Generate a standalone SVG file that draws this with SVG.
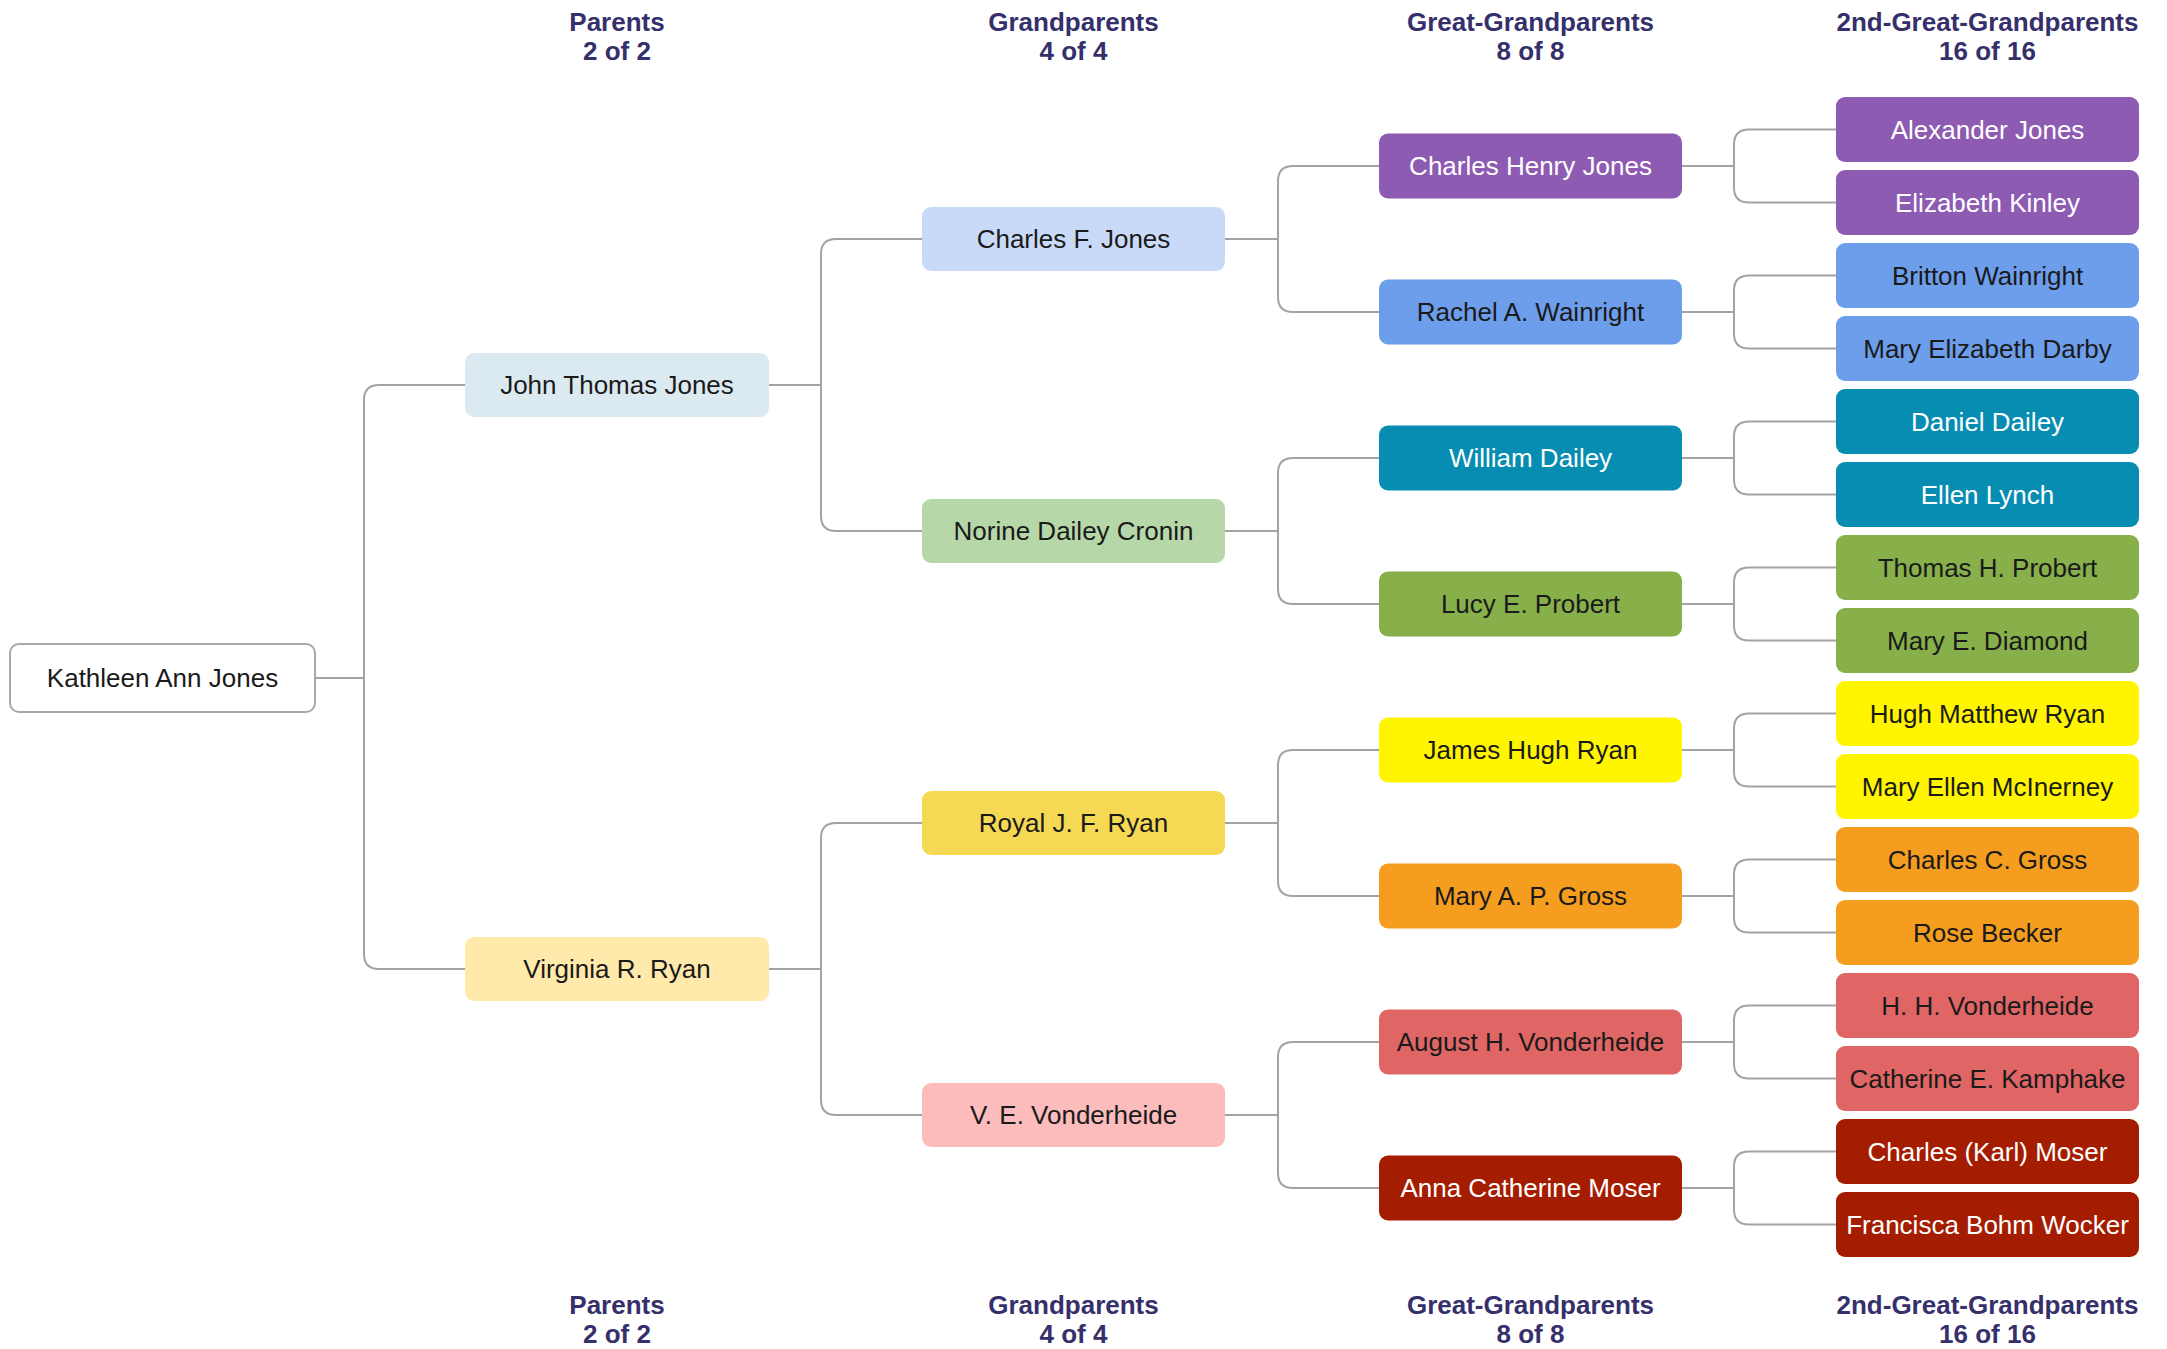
<svg xmlns="http://www.w3.org/2000/svg" width="2167" height="1349" viewBox="0 0 2167 1349">
<style>
  .hdr { font-family: "Liberation Sans", Arial, sans-serif; font-weight: bold; font-size: 26px; fill: #35306b; text-anchor: middle; }
  .lbl { font-family: "Liberation Sans", Arial, sans-serif; font-size: 26px; fill: #1a1a1a; text-anchor: middle; }
  .w { fill: #ffffff; }
  .conn { fill: none; stroke: #a3a3a3; stroke-width: 2; }
  .box { stroke: none; }
</style>
<rect width="2167" height="1349" fill="#ffffff"/>
<g id="headers">
  <text class="hdr" x="617" y="31">Parents</text><text class="hdr" x="617" y="60">2 of 2</text>
  <text class="hdr" x="1073.5" y="31">Grandparents</text><text class="hdr" x="1073.5" y="60">4 of 4</text>
  <text class="hdr" x="1530.5" y="31">Great-Grandparents</text><text class="hdr" x="1530.5" y="60">8 of 8</text>
  <text class="hdr" x="1987.5" y="31">2nd-Great-Grandparents</text><text class="hdr" x="1987.5" y="60">16 of 16</text>
  <text class="hdr" x="617" y="1314">Parents</text><text class="hdr" x="617" y="1343">2 of 2</text>
  <text class="hdr" x="1073.5" y="1314">Grandparents</text><text class="hdr" x="1073.5" y="1343">4 of 4</text>
  <text class="hdr" x="1530.5" y="1314">Great-Grandparents</text><text class="hdr" x="1530.5" y="1343">8 of 8</text>
  <text class="hdr" x="1987.5" y="1314">2nd-Great-Grandparents</text><text class="hdr" x="1987.5" y="1343">16 of 16</text>
</g>
<g id="connectors">
  <path class="conn" d="M315,678 H364 M465,385 H379 Q364,385 364,400 V954 Q364,969 379,969 H465"/>
  <path class="conn" d="M769,385 H821 M922,239 H836 Q821,239 821,254 V516 Q821,531 836,531 H922"/>
  <path class="conn" d="M769,969 H821 M922,823 H836 Q821,823 821,838 V1100 Q821,1115 836,1115 H922"/>
  <path class="conn" d="M1225,239 H1278 M1379,166 H1293 Q1278,166 1278,181 V297 Q1278,312 1293,312 H1379"/>
  <path class="conn" d="M1225,531 H1278 M1379,458 H1293 Q1278,458 1278,473 V589 Q1278,604 1293,604 H1379"/>
  <path class="conn" d="M1225,823 H1278 M1379,750 H1293 Q1278,750 1278,765 V881 Q1278,896 1293,896 H1379"/>
  <path class="conn" d="M1225,1115 H1278 M1379,1042 H1293 Q1278,1042 1278,1057 V1173 Q1278,1188 1293,1188 H1379"/>
  <path class="conn" d="M1682,166 H1734 M1836,129.5 H1749 Q1734,129.5 1734,144.5 V187.5 Q1734,202.5 1749,202.5 H1836"/>
  <path class="conn" d="M1682,312 H1734 M1836,275.5 H1749 Q1734,275.5 1734,290.5 V333.5 Q1734,348.5 1749,348.5 H1836"/>
  <path class="conn" d="M1682,458 H1734 M1836,421.5 H1749 Q1734,421.5 1734,436.5 V479.5 Q1734,494.5 1749,494.5 H1836"/>
  <path class="conn" d="M1682,604 H1734 M1836,567.5 H1749 Q1734,567.5 1734,582.5 V625.5 Q1734,640.5 1749,640.5 H1836"/>
  <path class="conn" d="M1682,750 H1734 M1836,713.5 H1749 Q1734,713.5 1734,728.5 V771.5 Q1734,786.5 1749,786.5 H1836"/>
  <path class="conn" d="M1682,896 H1734 M1836,859.5 H1749 Q1734,859.5 1734,874.5 V917.5 Q1734,932.5 1749,932.5 H1836"/>
  <path class="conn" d="M1682,1042 H1734 M1836,1005.5 H1749 Q1734,1005.5 1734,1020.5 V1063.5 Q1734,1078.5 1749,1078.5 H1836"/>
  <path class="conn" d="M1682,1188 H1734 M1836,1151.5 H1749 Q1734,1151.5 1734,1166.5 V1209.5 Q1734,1224.5 1749,1224.5 H1836"/>
</g>
<g id="root"><rect x="10" y="644" width="305" height="68" rx="9" fill="#ffffff" stroke="#a8a8a8" stroke-width="2"/><text class="lbl" x="162.5" y="687">Kathleen Ann Jones</text></g>

<g id="p1"><rect class="box" x="465" y="353" width="304" height="64" rx="9" fill="#dbeaf0"/><text class="lbl" x="617" y="394">John Thomas Jones</text></g>
<g id="p2"><rect class="box" x="465" y="937" width="304" height="64" rx="9" fill="#ffeaab"/><text class="lbl" x="617" y="978">Virginia R. Ryan</text></g>

<g id="g1"><rect class="box" x="922" y="207" width="303" height="64" rx="9" fill="#c9daf8"/><text class="lbl" x="1073.5" y="248">Charles F. Jones</text></g>
<g id="g2"><rect class="box" x="922" y="499" width="303" height="64" rx="9" fill="#b6d7a8"/><text class="lbl" x="1073.5" y="540">Norine Dailey Cronin</text></g>
<g id="g3"><rect class="box" x="922" y="791" width="303" height="64" rx="9" fill="#f5d854"/><text class="lbl" x="1073.5" y="832">Royal J. F. Ryan</text></g>
<g id="g4"><rect class="box" x="922" y="1083" width="303" height="64" rx="9" fill="#fbbcbb"/><text class="lbl" x="1073.5" y="1124">V. E. Vonderheide</text></g>

<g id="gg1"><rect class="box" x="1379" y="133.5" width="303" height="65" rx="9" fill="#8e5bb3"/><text class="lbl w" x="1530.5" y="175">Charles Henry Jones</text></g>
<g id="gg2"><rect class="box" x="1379" y="279.5" width="303" height="65" rx="9" fill="#6d9eeb"/><text class="lbl" x="1530.5" y="321">Rachel A. Wainright</text></g>
<g id="gg3"><rect class="box" x="1379" y="425.5" width="303" height="65" rx="9" fill="#078db1"/><text class="lbl w" x="1530.5" y="467">William Dailey</text></g>
<g id="gg4"><rect class="box" x="1379" y="571.5" width="303" height="65" rx="9" fill="#87b04b"/><text class="lbl" x="1530.5" y="613">Lucy E. Probert</text></g>
<g id="gg5"><rect class="box" x="1379" y="717.5" width="303" height="65" rx="9" fill="#fff500"/><text class="lbl" x="1530.5" y="759">James Hugh Ryan</text></g>
<g id="gg6"><rect class="box" x="1379" y="863.5" width="303" height="65" rx="9" fill="#f59d1f"/><text class="lbl" x="1530.5" y="905">Mary A. P. Gross</text></g>
<g id="gg7"><rect class="box" x="1379" y="1009.5" width="303" height="65" rx="9" fill="#e06666"/><text class="lbl" x="1530.5" y="1051">August H. Vonderheide</text></g>
<g id="gg8"><rect class="box" x="1379" y="1155.5" width="303" height="65" rx="9" fill="#a51d00"/><text class="lbl w" x="1530.5" y="1197">Anna Catherine Moser</text></g>

<g id="ggg1"><rect class="box" x="1836" y="97" width="303" height="65" rx="9" fill="#8e5bb3"/><text class="lbl w" x="1987.5" y="138.5">Alexander Jones</text></g>
<g id="ggg2"><rect class="box" x="1836" y="170" width="303" height="65" rx="9" fill="#8e5bb3"/><text class="lbl w" x="1987.5" y="211.5">Elizabeth Kinley</text></g>
<g id="ggg3"><rect class="box" x="1836" y="243" width="303" height="65" rx="9" fill="#6d9eeb"/><text class="lbl" x="1987.5" y="284.5">Britton Wainright</text></g>
<g id="ggg4"><rect class="box" x="1836" y="316" width="303" height="65" rx="9" fill="#6d9eeb"/><text class="lbl" x="1987.5" y="357.5">Mary Elizabeth Darby</text></g>
<g id="ggg5"><rect class="box" x="1836" y="389" width="303" height="65" rx="9" fill="#078db1"/><text class="lbl w" x="1987.5" y="430.5">Daniel Dailey</text></g>
<g id="ggg6"><rect class="box" x="1836" y="462" width="303" height="65" rx="9" fill="#078db1"/><text class="lbl w" x="1987.5" y="503.5">Ellen Lynch</text></g>
<g id="ggg7"><rect class="box" x="1836" y="535" width="303" height="65" rx="9" fill="#87b04b"/><text class="lbl" x="1987.5" y="576.5">Thomas H. Probert</text></g>
<g id="ggg8"><rect class="box" x="1836" y="608" width="303" height="65" rx="9" fill="#87b04b"/><text class="lbl" x="1987.5" y="649.5">Mary E. Diamond</text></g>
<g id="ggg9"><rect class="box" x="1836" y="681" width="303" height="65" rx="9" fill="#fff500"/><text class="lbl" x="1987.5" y="722.5">Hugh Matthew Ryan</text></g>
<g id="ggg10"><rect class="box" x="1836" y="754" width="303" height="65" rx="9" fill="#fff500"/><text class="lbl" x="1987.5" y="795.5">Mary Ellen McInerney</text></g>
<g id="ggg11"><rect class="box" x="1836" y="827" width="303" height="65" rx="9" fill="#f59d1f"/><text class="lbl" x="1987.5" y="868.5">Charles C. Gross</text></g>
<g id="ggg12"><rect class="box" x="1836" y="900" width="303" height="65" rx="9" fill="#f59d1f"/><text class="lbl" x="1987.5" y="941.5">Rose Becker</text></g>
<g id="ggg13"><rect class="box" x="1836" y="973" width="303" height="65" rx="9" fill="#e06666"/><text class="lbl" x="1987.5" y="1014.5">H. H. Vonderheide</text></g>
<g id="ggg14"><rect class="box" x="1836" y="1046" width="303" height="65" rx="9" fill="#e06666"/><text class="lbl" x="1987.5" y="1087.5">Catherine E. Kamphake</text></g>
<g id="ggg15"><rect class="box" x="1836" y="1119" width="303" height="65" rx="9" fill="#a51d00"/><text class="lbl w" x="1987.5" y="1160.5">Charles (Karl) Moser</text></g>
<g id="ggg16"><rect class="box" x="1836" y="1192" width="303" height="65" rx="9" fill="#a51d00"/><text class="lbl w" x="1987.5" y="1233.5">Francisca Bohm Wocker</text></g>
</svg>
